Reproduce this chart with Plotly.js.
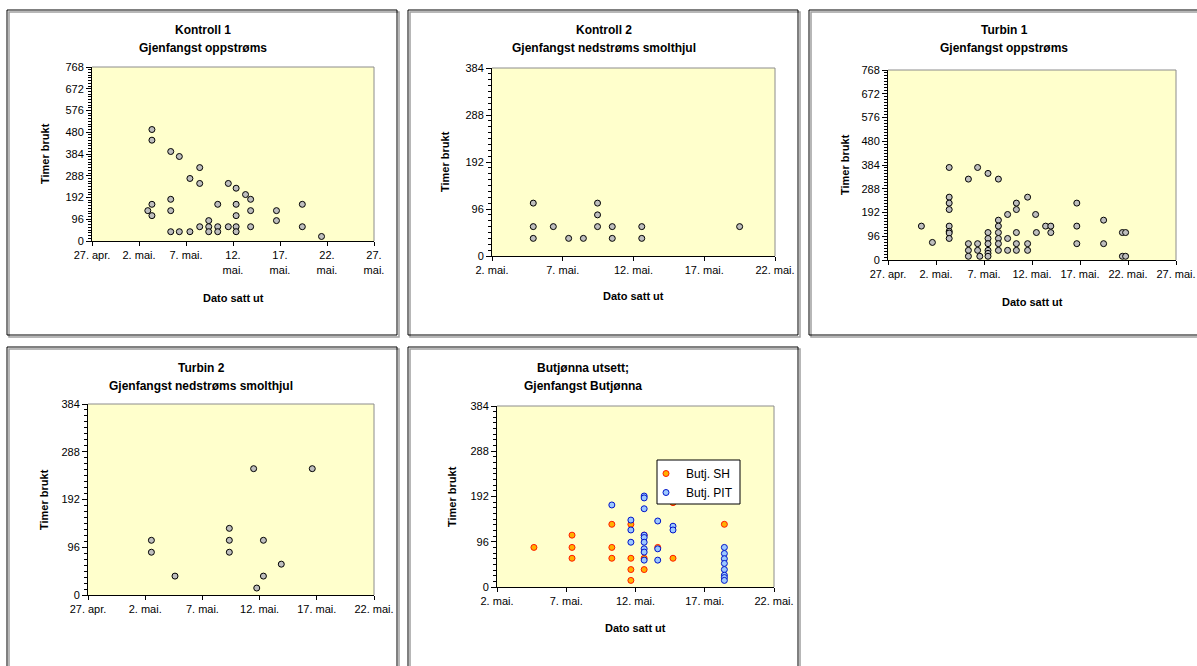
<!DOCTYPE html>
<html>
<head>
<meta charset="utf-8">
<script src="https://cdn.plot.ly/plotly-3.0.1.min.js"></script>
<style>html,body{margin:0;padding:0;background:#fff;}#chart{width:1197px;height:666px;}</style>
</head>
<body>
<div id="chart"></div>
<script>
// ---- Data ----
const kontroll1Dates = [
  "2003-05-02 22:30",
  "2003-05-03 09:00","2003-05-03 09:00","2003-05-03 09:00","2003-05-03 09:00",
  "2003-05-05 09:00","2003-05-05 09:00","2003-05-05 09:00","2003-05-05 09:00",
  "2003-05-06 07:00","2003-05-06 07:00",
  "2003-05-07 10:00","2003-05-07 10:00",
  "2003-05-08 11:00","2003-05-08 11:00","2003-05-08 11:00",
  "2003-05-09 10:00","2003-05-09 10:00","2003-05-09 10:00",
  "2003-05-10 09:00","2003-05-10 09:00","2003-05-10 09:00",
  "2003-05-11 12:00","2003-05-11 12:00",
  "2003-05-12 08:00","2003-05-12 08:00","2003-05-12 08:00","2003-05-12 08:00","2003-05-12 08:00",
  "2003-05-13 08:00",
  "2003-05-13 21:00","2003-05-13 21:00","2003-05-13 21:00",
  "2003-05-16 15:00","2003-05-16 15:00",
  "2003-05-19 09:00","2003-05-19 09:00",
  "2003-05-21 10:00"
];
const kontroll1Hours = [
  134,
  492,445,162,112,
  395,184,134,41,
  373,41,
  276,41,
  324,254,63,
  90,63,41,
  162,63,41,
  254,63,
  233,162,112,63,41,
  205,
  184,134,63,
  134,90,
  162,63,
  20
];

const kontroll2Dates = [
  "2003-05-04 22:00","2003-05-04 22:00","2003-05-04 22:00",
  "2003-05-06 08:00",
  "2003-05-07 10:00",
  "2003-05-08 11:00",
  "2003-05-09 11:00","2003-05-09 11:00","2003-05-09 11:00",
  "2003-05-10 12:00","2003-05-10 12:00",
  "2003-05-12 14:00","2003-05-12 14:00",
  "2003-05-19 12:00"
];
const kontroll2Hours = [108,60,36, 60, 36, 36, 108,84,60, 60,36, 60,36, 60];

const turbin1Dates = [
  "2003-04-30 11:30",
  "2003-05-01 15:00",
  "2003-05-03 09:00","2003-05-03 09:00","2003-05-03 09:00","2003-05-03 09:00","2003-05-03 09:00","2003-05-03 09:00","2003-05-03 09:00","2003-05-03 09:00",
  "2003-05-05 09:00","2003-05-05 09:00","2003-05-05 09:00","2003-05-05 09:00",
  "2003-05-06 08:00","2003-05-06 08:00","2003-05-06 08:00",
  "2003-05-06 13:30",
  "2003-05-07 10:00","2003-05-07 10:00","2003-05-07 10:00","2003-05-07 10:00","2003-05-07 10:00","2003-05-07 10:00","2003-05-07 10:00",
  "2003-05-08 12:00","2003-05-08 12:00","2003-05-08 12:00","2003-05-08 12:00","2003-05-08 12:00","2003-05-08 12:00","2003-05-08 12:00",
  "2003-05-09 11:00","2003-05-09 11:00","2003-05-09 11:00",
  "2003-05-10 09:00","2003-05-10 09:00","2003-05-10 09:00","2003-05-10 09:00","2003-05-10 09:00",
  "2003-05-11 13:00","2003-05-11 13:00","2003-05-11 13:00",
  "2003-05-12 09:00",
  "2003-05-12 11:00",
  "2003-05-13 10:00",
  "2003-05-13 23:00","2003-05-13 23:00",
  "2003-05-16 16:00","2003-05-16 16:00","2003-05-16 16:00",
  "2003-05-19 11:00","2003-05-19 11:00",
  "2003-05-21 10:00","2003-05-21 10:00",
  "2003-05-21 18:00","2003-05-21 18:00"
];
const turbin1Hours = [
  137,
  71,
  374,254,230,204,137,116,109,87,
  327,66,39,15,
  374,66,39,
  15,
  350,111,87,66,39,27,15,
  327,161,137,111,87,66,39,
  184,87,39,
  230,204,111,66,39,
  254,66,39,
  184,
  111,
  137,
  137,111,
  230,137,66,
  161,66,
  111,15,
  111,15
];

const turbin2Dates = [
  "2003-05-02 13:00","2003-05-02 13:00",
  "2003-05-04 14:30",
  "2003-05-09 08:30","2003-05-09 08:30","2003-05-09 08:30",
  "2003-05-11 11:30",
  "2003-05-11 18:00",
  "2003-05-12 08:00","2003-05-12 08:00",
  "2003-05-13 21:30",
  "2003-05-16 14:30"
];
const turbin2Hours = [110,86, 38, 134,110,86, 254, 14, 110,38, 62, 254];

const butjSHDates = [
  "2003-05-04 16:00",
  "2003-05-07 10:00","2003-05-07 10:00","2003-05-07 10:00",
  "2003-05-10 07:00","2003-05-10 07:00","2003-05-10 07:00",
  "2003-05-11 16:00","2003-05-11 16:00","2003-05-11 16:00","2003-05-11 16:00",
  "2003-05-12 15:00","2003-05-12 15:00","2003-05-12 15:00",
  "2003-05-13 14:30",
  "2003-05-14 17:00","2003-05-14 17:00",
  "2003-05-18 10:00"
];
const butjSHHours = [84, 110,84,61, 133,84,61, 133,61,37,14, 110,61,37, 84, 179,61, 133];

const butjPITDates = [
  "2003-05-10 07:00",
  "2003-05-11 16:00","2003-05-11 16:00","2003-05-11 16:00",
  "2003-05-12 15:00","2003-05-12 15:00","2003-05-12 15:00","2003-05-12 15:00","2003-05-12 15:00","2003-05-12 15:00","2003-05-12 15:00","2003-05-12 15:00","2003-05-12 15:00",
  "2003-05-13 14:30","2003-05-13 14:30","2003-05-13 14:30",
  "2003-05-14 17:00","2003-05-14 17:00",
  "2003-05-18 10:00","2003-05-18 10:00","2003-05-18 10:00","2003-05-18 10:00","2003-05-18 10:00","2003-05-18 10:00","2003-05-18 10:00","2003-05-18 10:00"
];
const butjPITHours = [174, 142,121,95, 193,189,166,110,105,95,81,74,57, 140,81,57, 129,121, 84,71,60,50,37,25,20,14];

// tick labels
const ticksApr27 = ["2003-04-27","2003-05-02","2003-05-07","2003-05-12","2003-05-17","2003-05-22","2003-05-27"];
const ticksMay2 = ["2003-05-02","2003-05-07","2003-05-12","2003-05-17","2003-05-22"];
const tickTextK1 = ["27. apr.","2. mai.","7. mai.","12.<br>mai.","17.<br>mai.","22.<br>mai.","27.<br>mai."];
const tickTextT1 = ["27. apr.","2. mai.","7. mai.","12. mai.","17. mai.","22. mai.","27. mai."];
const tickTextT2 = ["27. apr.","2. mai.","7. mai.","12. mai.","17. mai.","22. mai."];
const tickTextMay = ["2. mai.","7. mai.","12. mai.","17. mai.","22. mai."];
const yTicks768 = [0,96,192,288,384,480,576,672,768];
const yTicks384 = [0,96,192,288,384];

// ---- Layout helpers ----
const W = 1197, H = 666;
const FONT = "Liberation Sans, Arial, sans-serif";
const px = v => v / W;
const py = v => 1 - v / H;

const grayMarker = {size: 6, color: "#BEBEBE", line: {color: "#000", width: 1}};

function scatter(x, y, xa, ya, marker, name, showlegend) {
  return {type: "scatter", mode: "markers", x: x, y: y, xaxis: xa, yaxis: ya,
          marker: marker, name: name || "", showlegend: !!showlegend, hoverinfo: "x+y"};
}

const traces = [
  scatter(kontroll1Dates, kontroll1Hours, "x", "y", grayMarker),
  scatter(kontroll2Dates, kontroll2Hours, "x2", "y2", grayMarker),
  scatter(turbin1Dates, turbin1Hours, "x3", "y3", grayMarker),
  scatter(turbin2Dates, turbin2Hours, "x4", "y4", grayMarker),
  scatter(butjSHDates, butjSHHours, "x5", "y5", {size: 6, color: "#FFB000", line: {color: "#FF1A00", width: 1}}, "Butj. SH", true),
  scatter(butjPITDates, butjPITHours, "x5", "y5", {size: 6, color: "#9CC8FF", line: {color: "#0014C8", width: 1}}, "Butj. PIT", true)
];

const tickFont = {family: FONT, size: 11, color: "#000"};

function xAxis(dom, range, vals, text, anchor) {
  return {type: "date", domain: [px(dom[0]), px(dom[1])], range: range, anchor: anchor,
          tickmode: "array", tickvals: vals, ticktext: text, ticks: "outside", ticklen: 4,
          tickcolor: "#000", showline: true, linecolor: "#000", linewidth: 1, showgrid: false,
          zeroline: false, tickfont: tickFont, fixedrange: true};
}
function yAxis(dom, max, vals, anchor) {
  return {domain: [py(dom[1]), py(dom[0])], range: [0, max], anchor: anchor,
          tickmode: "array", tickvals: vals, ticks: "outside", ticklen: 5, tickcolor: "#000",
          minor: {dtick: 12, ticks: "outside", ticklen: 3, tickcolor: "#000", showgrid: false},
          showline: true, linecolor: "#000", linewidth: 1, showgrid: false, zeroline: false,
          tickfont: tickFont, fixedrange: true};
}

const layout = {
  width: W, height: H,
  margin: {l: 0, r: 0, t: 0, b: 0},
  paper_bgcolor: "#FFFFFF",
  plot_bgcolor: "#FFFFCC",
  font: {family: FONT, size: 11, color: "#000"},
  xaxis:  xAxis([92, 374], ["2003-04-27", "2003-05-27"], ticksApr27, tickTextK1, "y"),
  yaxis:  yAxis([67, 241], 768, yTicks768, "x"),
  xaxis2: xAxis([492, 775], ["2003-05-02", "2003-05-22"], ticksMay2, tickTextMay, "y2"),
  yaxis2: yAxis([68, 256], 384, yTicks384, "x2"),
  xaxis3: xAxis([888, 1176], ["2003-04-27", "2003-05-27"], ticksApr27, tickTextT1, "y3"),
  yaxis3: yAxis([70, 260], 768, yTicks768, "x3"),
  xaxis4: xAxis([88, 374], ["2003-04-27", "2003-05-22"], ticksApr27.slice(0, 6), tickTextT2, "y4"),
  yaxis4: yAxis([404, 595], 384, yTicks384, "x4"),
  xaxis5: xAxis([497, 774], ["2003-05-02", "2003-05-22"], ticksMay2, tickTextMay, "y5"),
  yaxis5: yAxis([406, 587], 384, yTicks384, "x5"),
  showlegend: true,
  legend: {x: px(654), y: py(459), xanchor: "left", yanchor: "top", bgcolor: "rgba(0,0,0,0)",
           bordercolor: "rgba(0,0,0,0)", borderwidth: 0, font: {family: FONT, size: 12, color: "#000"},
           itemwidth: 30, tracegroupgap: 0, indentation: -8},
  shapes: [],
  annotations: []
};

// panel frames (shadow + black border)
const panels = [[7, 10, 397, 335], [408, 10, 798, 335], [809, 10, 1210, 335], [7, 347, 397, 700], [408, 347, 798, 700]];
panels.forEach(p => {
  layout.shapes.push({type: "rect", xref: "paper", yref: "paper", x0: px(p[0] + 2), x1: px(p[2] + 2), y0: py(p[3] + 2), y1: py(p[1] + 2),
                      line: {color: "#A0A0A0", width: 1.5}, layer: "below"});
  layout.shapes.push({type: "rect", xref: "paper", yref: "paper", x0: px(p[0]), x1: px(p[2]), y0: py(p[3]), y1: py(p[1]),
                      line: {color: "#000", width: 1}, fillcolor: "rgba(0,0,0,0)", layer: "below"});
});

// legend frame (white box with black border) drawn beneath the legend items
layout.shapes.push({type: "rect", xref: "paper", yref: "paper", x0: px(657), x1: px(740), y0: py(504), y1: py(460),
                    line: {color: "#000", width: 1}, fillcolor: "#FFFFFF", layer: "above"});

// gray plot-area border on top and right
["", "2", "3", "4", "5"].forEach(s => {
  const xr = "x" + s + " domain", yr = "y" + s + " domain";
  layout.shapes.push({type: "line", xref: xr, yref: yr, x0: 0, x1: 1, y0: 1, y1: 1, line: {color: "#8C8C8C", width: 1}});
  layout.shapes.push({type: "line", xref: xr, yref: yr, x0: 1, x1: 1, y0: 0, y1: 1, line: {color: "#8C8C8C", width: 1}});
});

// titles
function title(text, x, y) {
  layout.annotations.push({text: "<b>" + text + "</b>", xref: "paper", yref: "paper", x: px(x), y: py(y),
                           xanchor: "center", yanchor: "middle", showarrow: false,
                           font: {family: FONT, size: 12, color: "#000"}});
}
function axTitle(text, x, y, rot) {
  layout.annotations.push({text: "<b>" + text + "</b>", xref: "paper", yref: "paper", x: px(x), y: py(y),
                           xanchor: "center", yanchor: "middle", showarrow: false, textangle: rot || 0,
                           font: {family: FONT, size: 11, color: "#000"}});
}
title("Kontroll 1", 203, 30); title("Gjenfangst oppstrøms", 203, 48);
title("Kontroll 2", 604, 30); title("Gjenfangst nedstrøms smolthjul", 604, 48);
title("Turbin 1", 1004, 30); title("Gjenfangst oppstrøms", 1004, 48);
title("Turbin 2", 201, 368); title("Gjenfangst nedstrøms smolthjul", 201, 386);
title("Butjønna utsett;", 583, 368); title("Gjenfangst Butjønna", 583, 386);

axTitle("Timer brukt", 45, 154, -90);
axTitle("Timer brukt", 445, 162, -90);
axTitle("Timer brukt", 845, 165, -90);
axTitle("Timer brukt", 44, 500, -90);
axTitle("Timer brukt", 452, 497, -90);
axTitle("Dato satt ut", 233, 298);
axTitle("Dato satt ut", 633, 296);
axTitle("Dato satt ut", 1032, 302);
axTitle("Dato satt ut", 635, 628);

Plotly.newPlot("chart", traces, layout, {displayModeBar: false, staticPlot: true});
</script>
</body>
</html>
